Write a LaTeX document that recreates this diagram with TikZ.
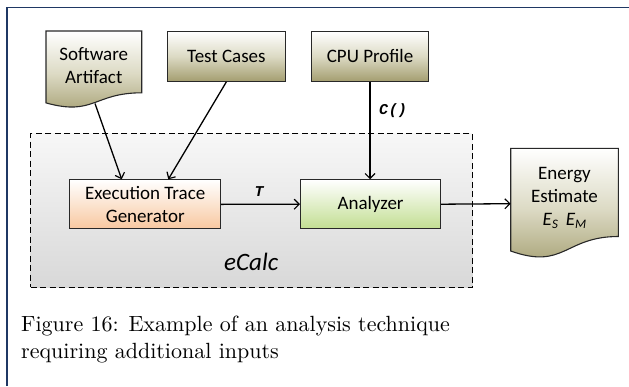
\documentclass[tikz,border=0pt]{standalone}
\usepackage{fontspec}
\newfontfamily\capfont{lmroman10-regular.otf}
\newfontfamily\calibri{Carlito}
\newfontfamily\monob{Liberation Mono}
\usetikzlibrary{arrows.meta,calc}
\definecolor{frameblue}{RGB}{31,56,100}
\definecolor{olv}{RGB}{164,158,112}
\definecolor{olvmid}{RGB}{220,218,196}
\definecolor{peach}{RGB}{248,200,160}
\definecolor{lgreen}{RGB}{194,222,146}
\definecolor{boxgrey}{RGB}{216,216,216}
\definecolor{edge}{RGB}{40,40,40}
\begin{document}
\begin{tikzpicture}[x=1pt,y=-1pt,
  lbl/.style={font=\calibri\fontsize{19}{23}\selectfont, align=center, text=black},
  inbox/.style={rectangle, draw=edge, line width=1.1pt, anchor=north west, inner sep=0pt,
    top color=white, bottom color=olv, middle color=olvmid, lbl},
  docshape/.style={draw=edge, line width=1.1pt, top color=white, bottom color=olv, middle color=olvmid},
  procbox/.style={rectangle, draw=edge, line width=1.1pt, anchor=north west, inner sep=0pt, lbl},
  arr/.style={line width=1.3pt, draw=black, -{Straight Barb[length=5pt,width=10pt,line width=1.2pt]}},
  dbox/.style={rectangle, draw=black, line width=1.3pt, dash pattern=on 6pt off 3.5pt,
    anchor=north west, inner sep=0pt, top color=white!97!black, bottom color=boxgrey},
  sig/.style={font=\monob\bfseries\itshape\fontsize{15}{15}\selectfont, inner sep=0pt},
  captxt/.style={font=\capfont\fontsize{22}{27}\selectfont, anchor=base west, inner sep=0pt}
]
\useasboundingbox (0,0) rectangle (629,386);
% frame
\draw[frameblue, line width=1.5pt] (7,386) -- (7,7.5) -- (629,7.5);

% eCalc dashed container
\node[dbox, minimum width=441.7pt, minimum height=153.7pt] (box) at (30,133) {};
\node[font=\calibri\itshape\fontsize{25}{25}\selectfont, anchor=base west, inner sep=0pt] (ecalc) at (224,270.5) {eCalc};

% Software Artifact (document shape)
\path[docshape] (46,31) -- (141.7,31) -- (141.7,92.8)
  .. controls (93.85,92.8) and (93.85,116.3) .. (46,102.9) -- cycle;
\coordinate (sa-b) at (95,103.5);
\node[lbl] (sa) at (93.8,66) {Software\\Artifact};

% Test Cases
\node[inbox, minimum width=118.3pt, minimum height=49.7pt] (tc) at (166.7,31) {Test Cases};
% CPU Profile
\node[inbox, minimum width=117.6pt, minimum height=49.7pt] (cpu) at (310.7,31) {CPU Profile};

% Execution Trace Generator
\node[procbox, minimum width=150.7pt, minimum height=49pt, top color=white, bottom color=peach] (etg) at (69.3,179.3) {Execution Trace\\Generator};
% Analyzer
\node[procbox, minimum width=140pt, minimum height=48.7pt, top color=white, bottom color=lgreen] (an) at (300,179.3) {Analyzer};

% Energy Estimate (document shape)
\path[docshape] (510.7,148.3) -- (618.3,148.3) -- (618.3,236.5)
  .. controls (564.5,236.5) and (564.5,270.2) .. (510.7,251) -- cycle;
\coordinate (ee-w) at (510.7,203.7);
\node[lbl] (ee) at (564.5,198) {Energy\\Estimate\\\itshape E\raisebox{-3.5pt}{\fontsize{13}{13}\selectfont S}\hspace{8pt}E\raisebox{-3.5pt}{\fontsize{13}{13}\selectfont M}};

% connectors
\draw[arr] (sa-b) -- ([xshift=52.4pt]etg.north west);
\draw[arr] (tc.south) -- ([xshift=99pt]etg.north west);
\draw[arr] (cpu.south) -- (cpu.south |- an.north);
\draw[arr] (etg.east) -- (an.west);
\draw[arr] (an.east) -- (ee-w);

% labels
\node[sig] (clbl) at (393,110.5) {C\kern1pt()};
\node[sig] (tlbl) at (259,192) {T};

% caption
\node[captxt] (cap1) at (21,331.5) {Figure 16: Example of an analysis technique};
\node[captxt] (cap2) at (21,358) {requiring additional inputs};
\end{tikzpicture}
\end{document}
